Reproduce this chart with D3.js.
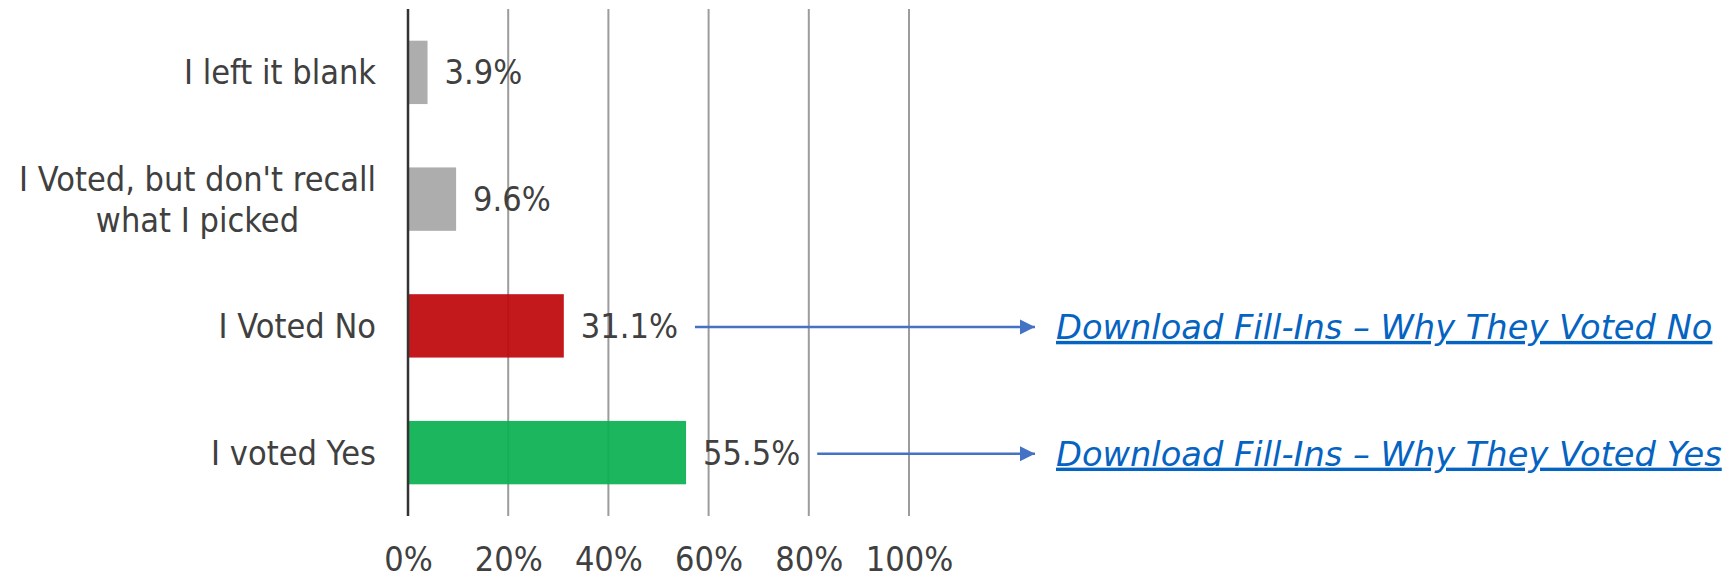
<!DOCTYPE html>
<html><head><meta charset="utf-8">
<script src="https://cdn.jsdelivr.net/npm/d3@7"></script>
<style>body{margin:0;background:#fff;} svg{display:block;}</style>
</head><body>
<script>
const categories = ["I left it blank", "I Voted, but don't recall\nwhat I picked", "I Voted No", "I voted Yes"];
const values = [3.9, 9.6, 31.1, 55.5];
const barColors = ["#A7A7A7", "#A7A7A7", "#C0080B", "#0BB052"];
const tickValues = [0, 20, 40, 60, 80, 100];
const linkCategories = ["I Voted No", "I voted Yes"];
const linkTexts = ["Download Fill-Ins \u2013 Why They Voted No", "Download Fill-Ins \u2013 Why They Voted Yes"];

const W = 1733, H = 579;
const FONT = "'DejaVu Sans', Verdana, sans-serif";
const FS = 34, SX = 0.9, LINK_SX = 0.99;
const textColor = "#404040";

const svg = d3.select("body").append("svg").attr("width", W).attr("height", H);

const x = d3.scaleLinear().domain([0, 100]).range([408, 909]);
const y = d3.scaleBand().domain(categories).range([9, 516]).paddingInner(0.5).paddingOuter(0.25);

// gridlines
svg.append("g").selectAll("line").data(tickValues.filter(d => d > 0)).join("line")
  .attr("x1", d => x(d)).attr("x2", d => x(d)).attr("y1", 9).attr("y2", 516)
  .attr("stroke", "#9C9C9C").attr("stroke-width", 2);

// bars
svg.append("g").selectAll("rect").data(categories).join("rect")
  .attr("x", x(0)).attr("y", d => y(d))
  .attr("width", (d, i) => x(values[i]) - x(0)).attr("height", y.bandwidth())
  .attr("fill", (d, i) => barColors[i]).attr("fill-opacity", 0.93);

// axis line
svg.append("line").attr("x1", x(0)).attr("x2", x(0)).attr("y1", 9).attr("y2", 516)
  .attr("stroke", "#333").attr("stroke-width", 2.5);

function addText(g, tx, ty, str, anchor, opts = {}) {
  const sx = opts.sx || SX;
  const t = g.append("text")
    .attr("transform", `translate(${tx},${ty}) scale(${sx},1)`)
    .attr("text-anchor", anchor)
    .attr("font-family", FONT).attr("font-size", FS)
    .attr("fill", opts.fill || textColor)
    .text(str);
  if (opts.italic) t.attr("font-style", "italic");
  if (opts.underline) t.attr("text-decoration", "underline");
  return t;
}

// category labels
const catG = svg.append("g");
categories.forEach(c => {
  const lines = c.split("\n");
  const cy = y(c) + y.bandwidth() / 2;
  const right = 376;
  if (lines.length === 1) {
    addText(catG, right, cy + 12, c, "end");
  } else {
    const tmp = lines.map(l => addText(catG, 0, 0, l, "start"));
    const widths = tmp.map(t => t.node().getComputedTextLength() * SX);
    tmp.forEach(t => t.remove());
    const maxW = d3.max(widths);
    const center = right - maxW / 2;
    const lh = 41;
    lines.forEach((l, k) => {
      addText(catG, center, cy + 12 + (k - (lines.length - 1) / 2) * lh, l, "middle");
    });
  }
});

// value labels
const valG = svg.append("g");
const valEnds = {};
categories.forEach((c, i) => {
  const cy = y(c) + y.bandwidth() / 2;
  const t = addText(valG, x(values[i]) + 17, cy + 12, values[i].toFixed(1) + "%", "start");
  valEnds[c] = x(values[i]) + 17 + t.node().getComputedTextLength() * SX;
});

// x axis tick labels
const axis = d3.axisBottom(x).tickValues(tickValues).tickSize(0).tickFormat(d => d + "%");
const ag = svg.append("g").call(axis);
ag.select(".domain").remove();
ag.selectAll(".tick text")
  .attr("y", 571).attr("dy", 0).attr("x", 0)
  .attr("font-family", FONT).attr("font-size", FS).attr("fill", textColor)
  .attr("transform", `scale(${SX},1)`);

// arrows and links
const defs = svg.append("defs");
defs.append("marker").attr("id", "arrow").attr("viewBox", "0 0 10 10")
  .attr("refX", 10).attr("refY", 5).attr("markerWidth", 6).attr("markerHeight", 6.4)
  .attr("markerUnits", "strokeWidth").attr("orient", "auto")
  .append("path").attr("d", "M0,0 L10,5 L0,10 Z").attr("fill", "#4472C4");

const linkG = svg.append("g");
linkCategories.forEach((c, i) => {
  const cy = y(c) + y.bandwidth() / 2 + 1;
  linkG.append("line").attr("x1", valEnds[c] + 17).attr("x2", 1035).attr("y1", cy).attr("y2", cy)
    .attr("stroke", "#4472C4").attr("stroke-width", 2.5).attr("marker-end", "url(#arrow)");
  addText(linkG, 1056, cy + 12, linkTexts[i], "start", { fill: "#0563C1", italic: true, underline: true, sx: LINK_SX });
});
</script>
</body></html>
